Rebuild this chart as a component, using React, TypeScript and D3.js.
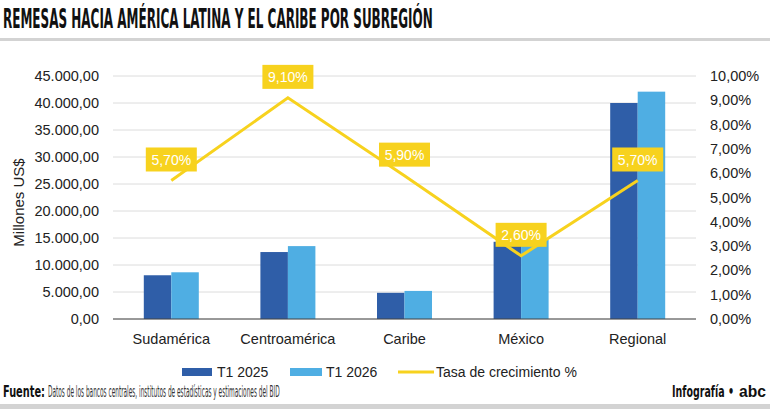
import React, { useLayoutEffect, useRef, useState } from 'react';
import * as d3 from 'd3';

const categories = ['Sudamérica', 'Centroamérica', 'Caribe', 'México', 'Regional'];
const t1_2025 = [8100, 12400, 4850, 14300, 40000];
const t1_2026 = [8650, 13500, 5200, 14700, 42100];
const growth = [5.7, 9.1, 5.9, 2.6, 5.7];
const growthLabels = ['5,70%', '9,10%', '5,90%', '2,60%', '5,70%'];
const leftTicks = [0, 5000, 10000, 15000, 20000, 25000, 30000, 35000, 40000, 45000];
const rightTicks = [0, 1, 2, 3, 4, 5, 6, 7, 8, 9, 10];

const W = 770;
const H = 409;
const plot = { left: 113, right: 696, top: 76, bottom: 319 };

const DARK = '#2F5EA8';
const LIGHT = '#4FAEE3';
const YELLOW = '#F7D21E';
const SANS = '"Liberation Sans", Arial, sans-serif';
const NARROW = '"Liberation Sans Narrow", "DejaVu Sans Condensed", "Roboto Condensed", sans-serif';

const es = d3.formatLocale({ decimal: ',', thousands: '.', grouping: [3], currency: ['', ''] });
const fmtLeft = es.format(',.2f');
const fmtRight = (v: number) => es.format('.2f')(v) + '%';

// squeezes a text horizontally to a given width (condensed look)
function FitText({ x, y, width, size, weight = 400, fill = '#111', family = NARROW, children }: any) {
  const ref = useRef<SVGTextElement>(null);
  const [sx, setSx] = useState(1);
  useLayoutEffect(() => {
    if (!ref.current) return;
    const len = ref.current.getComputedTextLength();
    if (len > 0) setSx(width / len);
  }, [width, children]);
  return (
    <text ref={ref} transform={`translate(${x},${y}) scale(${sx},1)`} fontFamily={family} fontWeight={weight} fontSize={size} fill={fill}>
      {children}
    </text>
  );
}

export default function App() {
  const x = d3.scaleBand<string>().domain(categories).range([plot.left, plot.right]).paddingInner(0).paddingOuter(0);
  const inner = d3.scaleBand<string>().domain(['a', 'b']).range([0, 55]);
  const y = d3.scaleLinear().domain([0, 45000]).range([plot.bottom, plot.top]);
  const yr = d3.scaleLinear().domain([0, 10]).range([plot.bottom, plot.top]);
  const off = (x.bandwidth() - 55) / 2;

  const line = d3
    .line<number>()
    .x((_, i) => (x(categories[i]) as number) + x.bandwidth() / 2)
    .y((d) => yr(d));

  return (
    <svg width={W} height={H} style={{ display: 'block', position: 'absolute', left: 0, top: 0, background: '#fff' }}>
      {/* title */}
      <FitText x={3} y={28} width={430} size={27} weight={700}>
        REMESAS HACIA AMÉRICA LATINA Y EL CARIBE POR SUBREGIÓN
      </FitText>
      <rect x={0} y={38} width={W} height={3} fill="#d3d3d3" />

      {/* grid */}
      {leftTicks.map((t) => (
        <line key={t} x1={plot.left} x2={plot.right} y1={y(t)} y2={y(t)} stroke="#dcdcdc" strokeWidth={1} />
      ))}

      {/* bars */}
      {categories.map((c, i) => {
        const x0 = (x(c) as number) + off;
        return (
          <g key={c}>
            <rect x={x0 + (inner('a') as number)} y={y(t1_2025[i])} width={inner.bandwidth()} height={plot.bottom - y(t1_2025[i])} fill={DARK} />
            <rect x={x0 + (inner('b') as number)} y={y(t1_2026[i])} width={inner.bandwidth()} height={plot.bottom - y(t1_2026[i])} fill={LIGHT} />
          </g>
        );
      })}
      <line x1={plot.left} x2={plot.right} y1={plot.bottom} y2={plot.bottom} stroke="#444" strokeWidth={1} />

      {/* growth line */}
      <path d={line(growth) as string} fill="none" stroke={YELLOW} strokeWidth={3} />
      {growth.map((g, i) => {
        const cx = (x(categories[i]) as number) + x.bandwidth() / 2;
        const cy = yr(g);
        return (
          <g key={i}>
            <rect x={cx - 25.5} y={cy - 33} width={51} height={24} fill={YELLOW} />
            <text x={cx} y={cy - 15.5} textAnchor="middle" fontFamily={SANS} fontSize={14} fill="#fff">
              {growthLabels[i]}
            </text>
          </g>
        );
      })}

      {/* left axis */}
      {leftTicks.map((t) => (
        <text key={t} x={99} y={y(t) + 5} textAnchor="end" fontFamily={SANS} fontSize={14.5} fill="#222">
          {fmtLeft(t)}
        </text>
      ))}
      <text transform={`translate(24,${(plot.top + plot.bottom) / 2 + 5}) rotate(-90)`} textAnchor="middle" fontFamily={SANS} fontSize={15} fill="#222">
        Millones US$
      </text>

      {/* right axis */}
      {rightTicks.map((t) => (
        <text key={t} x={710} y={yr(t) + 5} textAnchor="start" fontFamily={SANS} fontSize={14.5} fill="#222">
          {fmtRight(t)}
        </text>
      ))}

      {/* categories */}
      {categories.map((c) => (
        <text key={c} x={(x(c) as number) + x.bandwidth() / 2} y={344} textAnchor="middle" fontFamily={SANS} fontSize={14.5} fill="#222">
          {c}
        </text>
      ))}

      {/* legend */}
      <rect x={182} y={368} width={30} height={8} fill={DARK} />
      <text x={217} y={377} fontFamily={SANS} fontSize={14} fill="#222">T1 2025</text>
      <rect x={290} y={368} width={32} height={8} fill={LIGHT} />
      <text x={326} y={377} fontFamily={SANS} fontSize={14} fill="#222">T1 2026</text>
      <line x1={398} x2={434} y1={372} y2={372} stroke={YELLOW} strokeWidth={3} />
      <text x={436} y={377} fontFamily={SANS} fontSize={14} fill="#222">Tasa de crecimiento %</text>

      {/* footer */}
      <FitText x={3} y={397} width={42} size={16} weight={700}>Fuente:</FitText>
      <FitText x={48} y={397} width={232} size={16} fill="#333">
        Datos de los bancos centrales, institutos de estadísticas y estimaciones del BID
      </FitText>
      <FitText x={672} y={397} width={62} size={16} weight={700}>Infografía •</FitText>
      <FitText x={739} y={397} width={27} size={17} weight={900} family={SANS}>abc</FitText>
      <rect x={0} y={404} width={W} height={5} fill="#d3d3d3" />
    </svg>
  );
}
